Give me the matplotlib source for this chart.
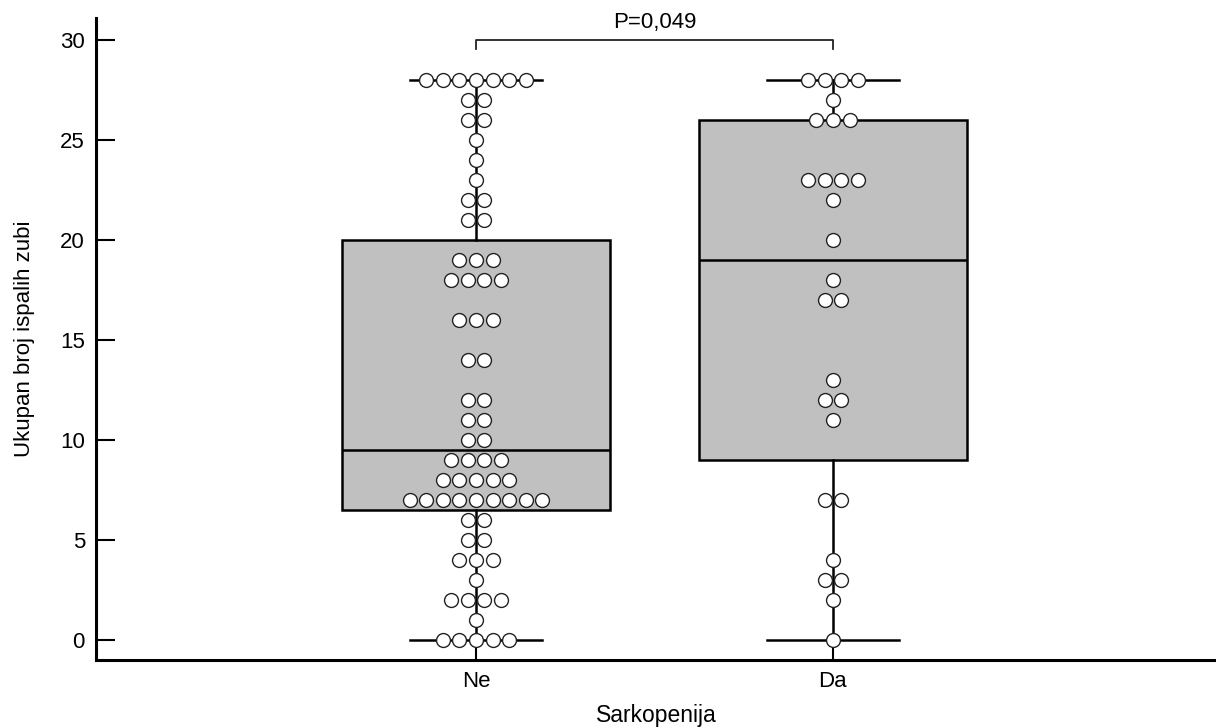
import matplotlib
matplotlib.use("Agg")
import matplotlib.pyplot as plt
import numpy as np

plt.rcParams['font.family'] = ['Liberation Sans', 'DejaVu Sans']

# values: (value, how many dots)
groups = ["Ne", "Da"]
ne_values = [28, 27, 26, 25, 24, 23, 22, 21, 19, 18, 16, 14, 12, 11, 10,
             9, 8, 7, 6, 5, 4, 3, 2, 1, 0]
ne_counts = [7, 2, 2, 1, 1, 1, 2, 2, 3, 4, 3, 2, 2, 2, 2,
             4, 5, 9, 2, 2, 3, 1, 4, 1, 5]
da_values = [28, 27, 26, 23, 22, 20, 18, 17, 13, 12, 11, 7, 4, 3, 2, 0]
da_counts = [4, 1, 3, 4, 1, 1, 1, 2, 1, 2, 1, 2, 1, 2, 1, 1]
p_text = "P=0,049"

ne = np.repeat(ne_values, ne_counts)
da = np.repeat(da_values, da_counts)


def box_stats(d, label):
    q1, med, q3 = np.percentile(d, [25, 50, 75], method="midpoint")
    return dict(med=med, q1=q1, q3=q3, whislo=d.min(), whishi=d.max(),
                fliers=[], label=label)


fig = plt.figure(figsize=(12.16, 7.28), dpi=100)
ax = fig.add_axes([0.079, 0.093, 0.921, 0.882])

stats = [box_stats(ne, "Ne"), box_stats(da, "Da")]
ax.bxp(stats, positions=[0, 1], widths=0.75, capwidths=0.37,
       patch_artist=True, showfliers=False,
       boxprops=dict(facecolor="#c0c0c0", edgecolor="black", linewidth=1.8),
       medianprops=dict(color="black", linewidth=1.8),
       whiskerprops=dict(color="black", linewidth=1.8),
       capprops=dict(color="black", linewidth=1.8))

# dot plot, dots of equal value spread side by side
step = 0.0465
for pos, vals, cnts in [(0, ne_values, ne_counts), (1, da_values, da_counts)]:
    for v, n in zip(vals, cnts):
        xs = pos + (np.arange(n) - (n - 1) / 2) * step
        ax.scatter(xs, [v] * n, s=100, facecolor="white", edgecolor="#222222",
                   linewidth=1.0, zorder=5)

# significance bracket
ax.plot([0, 0, 1, 1], [29.55, 30, 30, 29.55], color="#222222", lw=1.3,
        clip_on=False)
ax.text(0.5, 30.9, p_text, ha="center", va="center", fontsize=16)

ax.set_xlim(-1.064, 2.073)
ax.set_ylim(-1, 31.1)
ax.set_yticks([0, 5, 10, 15, 20, 25, 30])
ax.set_xticks([0, 1])
ax.set_xticklabels(groups)
ax.tick_params(axis="both", direction="in", length=14, width=1.5,
               labelsize=16, pad=8)
ax.spines["top"].set_visible(False)
ax.spines["right"].set_visible(False)
ax.spines["left"].set_linewidth(2.2)
ax.spines["bottom"].set_linewidth(2.2)
ax.set_ylabel("Ukupan broj ispalih zubi", fontsize=16, labelpad=18)
ax.set_xlabel("Sarkopenija", fontsize=16.5, labelpad=8)

fig.savefig("out.png", dpi=100)
